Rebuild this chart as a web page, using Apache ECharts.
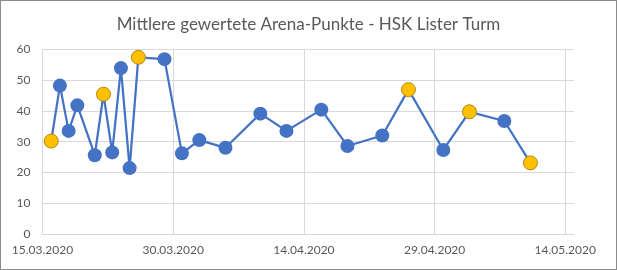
<!DOCTYPE html>
<html>
<head>
<meta charset="utf-8">
<script src="https://cdn.jsdelivr.net/npm/echarts@6/dist/echarts.min.js"></script>
<style>
html,body{margin:0;padding:0;background:#fff;}
#c{width:615px;height:268px;border:1px solid #8c8c8c;}
</style>
</head>
<body>
<div id="c"></div>
<script>
// Day offsets from 15.03.2020
const startDate = [2020, 2, 15];
const dayOffsets = [1,2,3,4,6,7,8,9,10,11,14,16,18,21,25,28,32,35,39,42,46,49,53,56];
const values = [30.2,48.2,33.5,41.8,25.6,45.4,26.5,53.9,21.4,57.4,56.8,26.2,30.5,28.0,39.1,33.5,40.4,28.6,32.0,46.9,27.3,39.7,36.7,23.1];
const highlighted = [true,false,false,false,false,true,false,false,false,true,false,false,false,false,false,false,false,false,false,true,false,true,false,true];
const xTickStep = 15;
const xMax = 61;
const yTicks = [0,10,20,30,40,50,60];

const BLUE = '#4472C4', GOLD = '#FFC000';
function fmt(d){
  const dt = new Date(Date.UTC(startDate[0], startDate[1], startDate[2] + d));
  const p = n => String(n).padStart(2,'0');
  return p(dt.getUTCDate()) + '.' + p(dt.getUTCMonth()+1) + '.' + dt.getUTCFullYear();
}
const data = dayOffsets.map((d,i)=>({
  value:[d, values[i]],
  itemStyle: highlighted[i] ? {color:GOLD, borderColor:'#B08A10', borderWidth:1} : {color:BLUE, borderColor:BLUE, borderWidth:0}
}));
const chart = echarts.init(document.getElementById('c'), null, {renderer:'canvas'});
chart.setOption({
  animation:false,
  backgroundColor:'#fff',
  title:{
    text:'Mittlere gewertete Arena-Punkte - HSK Lister Turm',
    left:'center', top:10,
    textStyle:{fontFamily:'Lato', fontSize:17, fontWeight:'normal', color:'#595959'}
  },
  grid:{left:41.5, right:42, top:48.3, bottom:35, containLabel:false},
  xAxis:{
    type:'value', min:0, max:xMax, interval:xTickStep,
    axisLine:{show:true, lineStyle:{color:'#D9D9D9', width:1}},
    axisTick:{show:false},
    axisLabel:{formatter:v=>fmt(v), showMaxLabel:false, color:'#595959', fontFamily:'Lato', fontSize:12, margin:10},
    splitLine:{show:true, showMaxLine:false, lineStyle:{color:'#D9D9D9', width:1}}
  },
  yAxis:{
    type:'value', min:yTicks[0], max:yTicks[yTicks.length-1], interval:yTicks[1]-yTicks[0],
    axisLine:{show:false}, axisTick:{show:false},
    axisLabel:{color:'#595959', fontFamily:'Lato', fontSize:12, margin:12},
    splitLine:{show:true, lineStyle:{color:'#D9D9D9', width:1}}
  },
  series:[{
    type:'line', data:data, symbol:'circle', symbolSize:14,
    lineStyle:{color:BLUE, width:2.25},
    itemStyle:{color:BLUE}
  }]
});
</script>
</body>
</html>
